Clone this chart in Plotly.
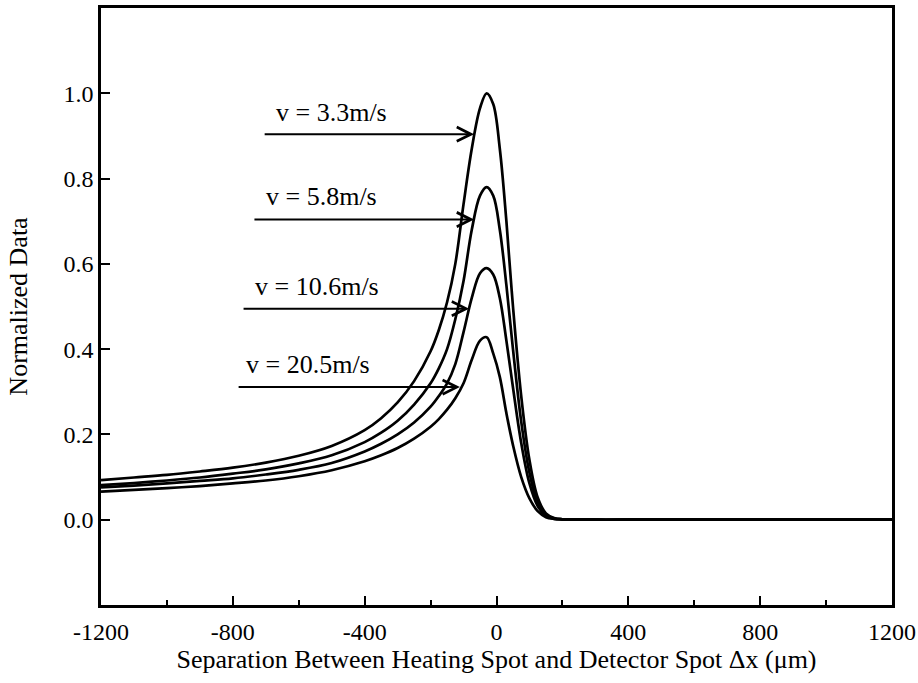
import plotly.graph_objects as go

# Separation between heating spot and detector spot (um)
x_um = [-1200, -1100, -1000, -900, -800, -700, -600, -500, -400, -350, -300, -250, -200,
        -175, -150, -125, -100, -75, -50, -30, -10, 10, 30, 50, 75, 100, 125, 150, 175, 200,
        300, 400, 600, 800, 1000, 1200]

# Normalized data for each scan speed
y_v33 = [0.093, 0.099, 0.105, 0.113, 0.122, 0.134, 0.150, 0.173, 0.210, 0.238, 0.275, 0.325, 0.395,
         0.445, 0.510, 0.600, 0.740, 0.870, 0.965, 1.000, 0.975, 0.870, 0.700, 0.500, 0.290, 0.140,
         0.052, 0.015, 0.004, 0.001, 0.0, 0.0, 0.0, 0.0, 0.0, 0.0]
y_v58 = [0.081, 0.086, 0.092, 0.099, 0.108, 0.118, 0.132, 0.151, 0.182, 0.204, 0.232, 0.270, 0.320,
         0.355, 0.400, 0.470, 0.560, 0.680, 0.760, 0.780, 0.760, 0.680, 0.550, 0.400, 0.230, 0.110,
         0.040, 0.012, 0.003, 0.001, 0.0, 0.0, 0.0, 0.0, 0.0, 0.0]
y_v106 = [0.076, 0.080, 0.085, 0.091, 0.097, 0.106, 0.117, 0.133, 0.160, 0.178, 0.200, 0.228, 0.265,
          0.290, 0.320, 0.365, 0.440, 0.520, 0.578, 0.590, 0.575, 0.520, 0.420, 0.310, 0.180, 0.085,
          0.032, 0.009, 0.002, 0.001, 0.0, 0.0, 0.0, 0.0, 0.0, 0.0]
y_v205 = [0.066, 0.070, 0.074, 0.079, 0.085, 0.092, 0.102, 0.116, 0.137, 0.151, 0.168, 0.190, 0.218,
          0.236, 0.258, 0.285, 0.320, 0.375, 0.420, 0.428, 0.390, 0.335, 0.250, 0.175, 0.100, 0.050,
          0.020, 0.006, 0.002, 0.001, 0.0, 0.0, 0.0, 0.0, 0.0, 0.0]

series_names = ["v = 3.3m/s", "v = 5.8m/s", "v = 10.6m/s", "v = 20.5m/s"]
series_values = [y_v33, y_v58, y_v106, y_v205]

# Arrow annotations: tail x, tip x, y level; label anchor
arrow_tail_x = [-708, -739, -772, -787]
arrow_tip_x = [-68, -68, -83, -111]
arrow_y = [0.904, 0.704, 0.495, 0.311]
label_x = [-675, -705, -739, -766]
label_y = [0.955, 0.758, 0.546, 0.365]

x_tickvals = [-1200, -800, -400, 0, 400, 800, 1200]
x_ticktext = ["-1200", "-800", "-400", "0", "400", "800", "1200"]
y_tickvals = [0.0, 0.2, 0.4, 0.6, 0.8, 1.0]
y_ticktext = ["0.0", "0.2", "0.4", "0.6", "0.8", "1.0"]

FONT = "Liberation Serif, Times New Roman, serif"

fig = go.Figure()
for name, ys in zip(series_names, series_values):
    fig.add_trace(go.Scatter(
        x=x_um, y=ys, mode="lines", name=name,
        line=dict(color="black", width=2.7, shape="spline", smoothing=1.0),
        showlegend=False,
    ))

annotations = []
for name, tx, hx, ay, lx, ly in zip(series_names, arrow_tail_x, arrow_tip_x, arrow_y, label_x, label_y):
    annotations.append(dict(
        x=hx, y=ay, ax=tx, ay=ay, xref="x", yref="y", axref="x", ayref="y",
        text="", showarrow=True, arrowhead=5, arrowsize=1.4, arrowwidth=2,
        arrowcolor="black", standoff=0,
    ))
    annotations.append(dict(
        x=lx, y=ly, xref="x", yref="y", text=name, showarrow=False,
        xanchor="left", yanchor="middle",
        font=dict(family=FONT, size=26, color="black"),
    ))

fig.update_layout(
    width=918, height=683,
    margin=dict(l=101, r=26, t=8, b=78),
    paper_bgcolor="white", plot_bgcolor="white",
    font=dict(family=FONT, color="black"),
    annotations=annotations,
    xaxis=dict(
        range=[-1200, 1200], tickmode="array", tickvals=x_tickvals, ticktext=x_ticktext,
        ticks="inside", ticklen=9, tickwidth=2, tickcolor="black",
        minor=dict(tick0=-1200, dtick=200, ticks="inside", ticklen=5, tickwidth=2, tickcolor="black"),
        showline=True, linewidth=2.5, linecolor="black", mirror=True,
        showgrid=False, zeroline=False, automargin=False, ticklabelstandoff=3,
        tickfont=dict(family=FONT, size=24, color="black"),
        title=dict(text="Separation Between Heating Spot and Detector Spot \u0394x (\u03bcm)",
                   font=dict(family=FONT, size=26, color="black"), standoff=0),
    ),
    yaxis=dict(
        range=[-0.2, 1.2], tickmode="array", tickvals=y_tickvals, ticktext=y_ticktext,
        ticks="inside", ticklen=9, tickwidth=2, tickcolor="black",
        showline=True, linewidth=2.5, linecolor="black", mirror=True,
        showgrid=False, zeroline=False, automargin=False,
        tickfont=dict(family=FONT, size=24, color="black"),
        title=dict(text="Normalized Data", font=dict(family=FONT, size=26, color="black"), standoff=29),
    ),
)

fig.write_html(
    "out.html",
    config={"displayModeBar": False},
    post_script="document.body.style.margin='0px';document.body.style.overflow='hidden';",
)
